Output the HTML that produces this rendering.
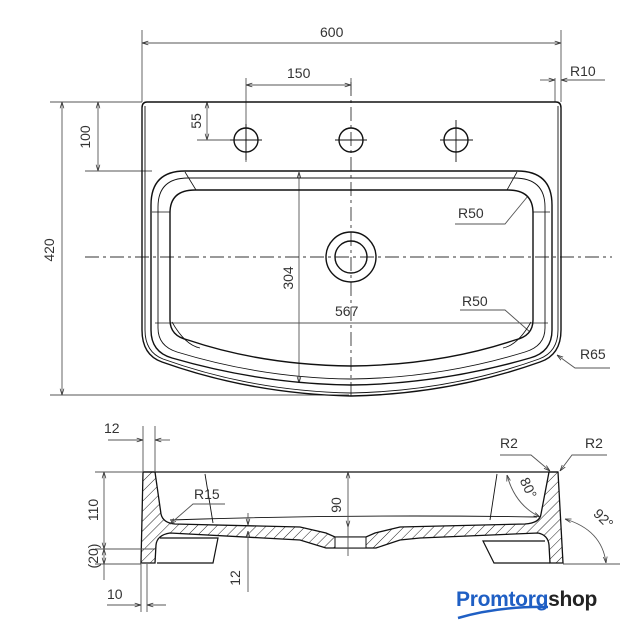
<!DOCTYPE html>
<html><head><style>
html,body{margin:0;padding:0;background:#fff;}
svg{display:block;}
text{font-family:"Liberation Sans",sans-serif;fill:#333;font-size:14px;}
</style></head><body>
<svg width="642" height="640" viewBox="0 0 642 640" xmlns="http://www.w3.org/2000/svg">
<defs>
<pattern id="h" width="7" height="7" patternUnits="userSpaceOnUse" patternTransform="rotate(45)">
<rect width="7" height="7" fill="#fff"/><line x1="0" y1="0" x2="0" y2="7" stroke="#222" stroke-width="1"/>
</pattern>
<marker id="a" viewBox="0 0 10 10" refX="10" refY="5" markerWidth="7" markerHeight="7" orient="auto-start-reverse"><path d="M0,2 L10,5 L0,8" fill="none" stroke="#333" stroke-width="1.2"/></marker>
</defs>
<g fill="none" stroke="#555" stroke-width="0.9">
<!-- top dims -->
<line x1="142" y1="30" x2="142" y2="102"/><line x1="561" y1="30" x2="561" y2="102"/>
<line x1="142" y1="43" x2="561" y2="43" marker-start="url(#a)" marker-end="url(#a)"/>
<line x1="246" y1="78" x2="246" y2="162"/><line x1="351" y1="78" x2="351" y2="90"/>
<line x1="246" y1="85" x2="351" y2="85" marker-start="url(#a)" marker-end="url(#a)"/>
<line x1="555" y1="78" x2="555" y2="102"/>
<line x1="540" y1="80" x2="555" y2="80" marker-end="url(#a)"/><line x1="561" y1="80" x2="605" y2="80" marker-start="url(#a)"/>
<line x1="50" y1="102" x2="142" y2="102"/><line x1="85" y1="171" x2="152" y2="171"/><line x1="50" y1="395" x2="349" y2="395"/>
<line x1="98" y1="102" x2="98" y2="171" marker-start="url(#a)" marker-end="url(#a)"/>
<line x1="62" y1="102" x2="62" y2="395" marker-start="url(#a)" marker-end="url(#a)"/>
<line x1="207" y1="102" x2="207" y2="140" marker-start="url(#a)" marker-end="url(#a)"/>
<line x1="197" y1="140" x2="230" y2="140"/>
<line x1="299" y1="172" x2="299" y2="383" marker-start="url(#a)" marker-end="url(#a)"/>
<line x1="155" y1="323" x2="548" y2="323"/>
<path d="M455,224 L505,224 L528,196"/><path d="M460,310 L505,310 L530,332"/>
<path d="M610,368 L575,368 L557,355" marker-end="url(#a)"/>
</g>
<!-- centerlines -->
<g stroke="#333" stroke-width="0.9" stroke-dasharray="14,4,3,4" fill="none">
<line x1="85" y1="257" x2="612" y2="257"/><line x1="351" y1="82" x2="351" y2="400"/>
</g>
<!-- top view -->
<g fill="none" stroke="#111" stroke-width="1.4">
<path d="M147,102 L556,102 Q561,102 561,108 L561,330 Q561,355 540,362 Q450,394 351,396 Q252,394 162,362 Q142,355 142,330 L142,108 Q142,102 147,102 Z"/>
<path d="M145,106 L145,330 Q145,352 163,359 Q252,391 351,393 Q450,391 539,359 Q558,352 558,330 L558,106" stroke-width="0.9"/>
<path d="M185,171 L517,171 Q552,171 552,205 L552,330 Q552,352 530,358 Q440,384 351,385 Q262,384 172,358 Q151,352 151,330 L151,205 Q151,171 185,171 Z"/>
<path d="M188,178 L514,178 Q545,178 545,207 L545,328 Q545,346 525,352 Q440,378 351,379 Q262,378 177,352 Q158,346 158,328 L158,207 Q158,178 188,178 Z" stroke-width="0.9"/>
<path d="M195,190 L508,190 Q533,190 533,213 L533,320 Q533,336 515,340 Q440,365 351,366 Q262,365 188,340 Q170,336 170,320 L170,213 Q170,190 195,190 Z"/>
<path d="M172,322 Q185,345 200,348 M531,322 Q518,345 503,348 M185,172 L196,190 M517,172 L507,190 M152,212 L170,212 M550,212 L533,212" stroke-width="0.8"/>
<circle cx="246" cy="140" r="12"/><circle cx="351" cy="140" r="12"/><circle cx="456" cy="140" r="12"/>
<circle cx="351" cy="257" r="25"/><circle cx="351" cy="257" r="16"/>
</g>
<g stroke="#111" stroke-width="0.9">
<line x1="230" y1="140" x2="262" y2="140"/><line x1="246" y1="124" x2="246" y2="160"/>
<line x1="335" y1="140" x2="367" y2="140"/>
<line x1="440" y1="140" x2="473" y2="140"/><line x1="456" y1="120" x2="456" y2="162"/>
</g>
<text x="320" y="37">600</text>
<text x="287" y="78">150</text>
<text x="570" y="76">R10</text>
<text x="335" y="316">567</text>
<text x="458" y="218">R50</text>
<text x="462" y="306">R50</text>
<text x="580" y="359">R65</text>
<text transform="translate(90,137) rotate(-90)" text-anchor="middle">100</text>
<text transform="translate(54,250) rotate(-90)" text-anchor="middle">420</text>
<text transform="translate(201,121) rotate(-90)" text-anchor="middle">55</text>
<text transform="translate(293,278) rotate(-90)" text-anchor="middle">304</text>
<!-- section -->
<path d="M143,472 L155,472 L161,514 Q163,523 175,524 L300,527 L326,533 L335,537 L366,537 L375,533 L400,527 L525,524 Q540,523 541,514 L549,472 L558,472 L563,563 L550,563 L549,545 Q548,535 538,533 L420,538 L400,540 L376,548 L326,548 L300,540 L170,533 Q157,535 156,545 L155,563 L141,563 Z" fill="url(#h)" stroke="#111" stroke-width="1.3"/>
<rect x="335" y="537" width="31" height="11" fill="#fff" stroke="#111" stroke-width="1"/>
<g fill="none" stroke="#111" stroke-width="1.2">
<line x1="143" y1="472" x2="558" y2="472"/>
<path d="M160,538 L218,538 L213,563 L157,563"/>
<path d="M545,541 L483,541 L494,563 L550,563"/>
<path d="M205,474 L213,523 M497,474 L490,520 M170,520 Q351,514 537,517" stroke-width="0.9"/>
</g>
<g fill="none" stroke="#555" stroke-width="0.9">
<line x1="143" y1="426" x2="143" y2="472"/><line x1="155" y1="426" x2="155" y2="472"/>
<line x1="108" y1="440" x2="143" y2="440" marker-end="url(#a)"/><line x1="155" y1="440" x2="170" y2="440" marker-start="url(#a)"/>
<line x1="95" y1="472" x2="143" y2="472"/><line x1="95" y1="549" x2="155" y2="549"/><line x1="95" y1="564" x2="141" y2="564"/>
<line x1="104" y1="472" x2="104" y2="549" marker-start="url(#a)" marker-end="url(#a)"/>
<line x1="104" y1="549" x2="104" y2="564" marker-start="url(#a)" marker-end="url(#a)"/>
<line x1="104" y1="564" x2="104" y2="580"/>
<line x1="141" y1="564" x2="141" y2="612"/><line x1="147" y1="564" x2="147" y2="612"/>
<line x1="107" y1="605" x2="141" y2="605" marker-end="url(#a)"/><line x1="147" y1="605" x2="166" y2="605" marker-start="url(#a)"/>
<line x1="248" y1="513" x2="248" y2="525" marker-end="url(#a)"/><line x1="248" y1="531" x2="248" y2="592" marker-start="url(#a)"/>
<line x1="348" y1="472" x2="348" y2="527" marker-start="url(#a)" marker-end="url(#a)"/><line x1="348" y1="527" x2="348" y2="556"/>
<path d="M225,504 L193,504 L170,524" marker-end="url(#a)"/>
<path d="M500,455 L531,455 L550,471" marker-end="url(#a)"/>
<path d="M607,455 L572,455 L560,471" marker-end="url(#a)"/>
<path d="M507,475 Q515,505 540,517" marker-start="url(#a)" marker-end="url(#a)"/>
<path d="M565,519 Q602,530 606,563" marker-start="url(#a)" marker-end="url(#a)"/>
<line x1="563" y1="564" x2="620" y2="564"/>
</g>
<text x="104" y="433">12</text>
<text x="107" y="599">10</text>
<text x="194" y="499">R15</text>
<text x="500" y="448">R2</text>
<text x="585" y="448">R2</text>
<text transform="translate(98,510) rotate(-90)" text-anchor="middle">110</text>
<text transform="translate(98,556) rotate(-90)" text-anchor="middle">(20)</text>
<text transform="translate(240,578) rotate(-90)" text-anchor="middle">12</text>
<text transform="translate(341,505) rotate(-90)" text-anchor="middle">90</text>
<text transform="translate(524,490) rotate(65)" text-anchor="middle">80°</text>
<text transform="translate(600,522) rotate(45)" text-anchor="middle">92°</text>
<!-- logo -->
<text x="456" y="606" style="font-size:21px;font-weight:bold;fill:#1f5fc4;letter-spacing:-0.3px">Promtorg<tspan style="fill:#222">shop</tspan></text>
<path d="M458,618 Q500,606 548,607" fill="none" stroke="#1f5fc4" stroke-width="2.5"/>
</svg>
</body></html>
